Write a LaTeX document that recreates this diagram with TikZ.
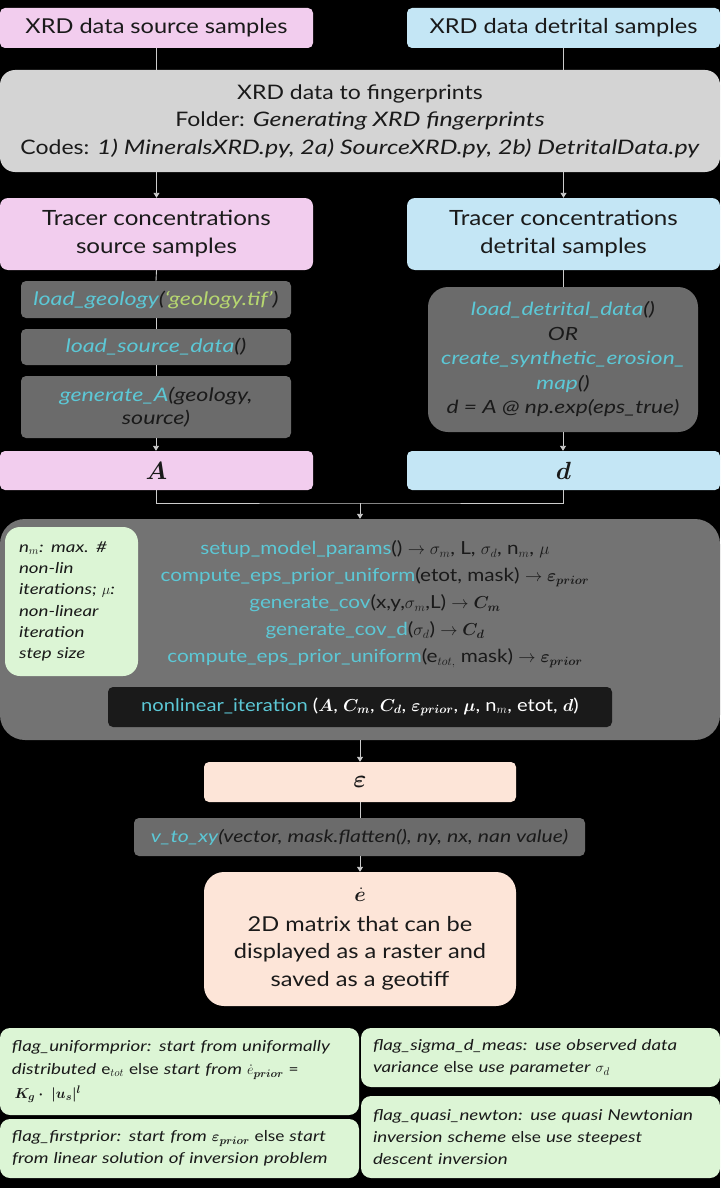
\documentclass[tikz,border=0pt]{standalone}
\usepackage{amsmath,bm}
\usepackage{fontspec}
\setmainfont{Lato}[UprightFeatures={FakeStretch=1.15}, ItalicFeatures={FakeStretch=1.25}, BoldFeatures={FakeStretch=1.15}]
\usetikzlibrary{arrows.meta,calc}
\definecolor{pinkc}{HTML}{F2CDEE}
\definecolor{bluec}{HTML}{C4E6F5}
\definecolor{grayc}{HTML}{D4D4D4}
\definecolor{darkc}{HTML}{6B6B6B}
\definecolor{bigc}{HTML}{737373}
\definecolor{blackc}{HTML}{1A1A1A}
\definecolor{notec}{HTML}{DCF5D5}
\definecolor{peachc}{HTML}{FDE5D8}
\definecolor{fn}{RGB}{92,200,214}
\definecolor{strc}{RGB}{182,214,112}
\definecolor{linec}{HTML}{CCCCCC}
\definecolor{txtc}{HTML}{1A1A1A}
\newcommand\myfs[2]{\fontsize{#1}{#2}\selectfont}
\begin{document}
\begin{tikzpicture}[x=1pt,y=-1pt,
  box/.style={rectangle, rounded corners=5pt, inner sep=0pt, align=center, text=txtc},
  pinkbox/.style={box, fill=pinkc},
  bluebox/.style={box, fill=bluec},
  darkbox/.style={box, fill=darkc, minimum width=270pt, font=\myfs{18.6}{23}\itshape},
  peachbox/.style={box, fill=peachc},
  greenbox/.style={box, fill=notec, align=left, inner xsep=12pt, text width=335pt, font=\myfs{15}{22}},
  conn/.style={draw=linec, line width=0.9pt},
  arr/.style={conn, -{Triangle[width=6pt,length=5pt]}}
]
\fill[black] (0,0) rectangle (720,1188);
\useasboundingbox (0,0) rectangle (720,1188);

% top row
\node[pinkbox, minimum width=313pt, minimum height=40pt, font=\myfs{20.5}{24}] (srcxrd) at (156.5,28) {XRD data source samples};
\node[bluebox, minimum width=313pt, minimum height=40pt, font=\myfs{20.5}{24}] (detxrd) at (563.5,28) {XRD data detrital samples};

\node[box, fill=grayc, minimum width=720pt, minimum height=102pt, rounded corners=15pt, font=\myfs{20}{27.5}] (fp) at (360,121)
  {XRD data to fingerprints\\ Folder: \textit{Generating XRD fingerprints}\\ Codes: \textit{1) MineralsXRD.py, 2a) SourceXRD.py, 2b) DetritalData.py}};

\node[pinkbox, minimum width=313pt, minimum height=72pt, rounded corners=8pt, font=\myfs{21}{28}] (srctr) at (156.5,234) {Tracer concentrations\\ source samples};
\node[bluebox, minimum width=313pt, minimum height=72pt, rounded corners=8pt, font=\myfs{21}{28}] (dettr) at (563.5,234) {Tracer concentrations\\ detrital samples};

% left dark boxes
\node[darkbox, minimum height=37pt] (lg) at (156,299.5) {{\color{fn}load\_geology}({\color{strc}‘geology.tif’})};
\node[darkbox, minimum height=36pt] (lsd) at (156,347) {{\color{fn}load\_source\_data}()};
\node[darkbox, minimum height=62pt] (genA) at (156,407) {{\color{fn}generate\_A}(geology,\\ source)};

% right dark box
\node[darkbox, minimum height=145pt, rounded corners=20pt, font=\myfs{18.2}{24.5}\itshape] (detfun) at (563,359.5)
  {{\color{fn}load\_detrital\_data}()\\ OR\\ {\color{fn}create\_synthetic\_erosion\_}\\ {\color{fn}map}()\\ d = A @ np.exp(eps\_true)};

\node[pinkbox, minimum width=313pt, minimum height=39pt, font=\myfs{23}{24}] (A) at (156.5,470.5) {$\bm{A}$};
\node[bluebox, minimum width=313pt, minimum height=39pt, font=\myfs{23}{24}] (d) at (563.5,470.5) {$\bm{d}$};

% big box
\node[box, fill=bigc, minimum width=720pt, minimum height=221pt, rounded corners=25pt] (big) at (360,629.5) {};
\node[box, fill=notec, minimum width=133pt, minimum height=149pt, rounded corners=15pt, align=left, text width=105pt, font=\myfs{15}{21.3}\itshape] (note) at (71.5,601.5)
  {n$_m$: max. \#\\ non-lin\\ iterations; $\mu$:\\ non-linear\\ iteration\\ step size};
\node[inner sep=0pt, align=center, text=txtc, font=\myfs{18}{27}] (params) at (375,604)
  {{\color{fn}setup\_model\_params}() $\rightarrow \sigma_m$, L, $\sigma_d$, n$_m$, $\mu$\\
   {\color{fn}compute\_eps\_prior\_uniform}(etot, mask) $\rightarrow \bm{\varepsilon}_{\bm{prior}}$\\
   {\color{fn}generate\_cov}(x,y,$\sigma_m$,L) $\rightarrow \bm{C}_{\bm{m}}$\\
   {\color{fn}generate\_cov\_d}($\sigma_d$) $\rightarrow \bm{C}_{\bm{d}}$\\
   {\color{fn}compute\_eps\_prior\_uniform}(e$_{tot,}$ mask) $\rightarrow \bm{\varepsilon}_{\bm{prior}}$};
\node[box, fill=blackc, minimum width=504pt, minimum height=40pt, text=white, font=\myfs{17.5}{22}] (nl) at (360,707)
  {{\color{fn}nonlinear\_iteration} ($\bm{A}$, $\bm{C}_{\bm{m}}$, $\bm{C}_{\bm{d}}$, $\bm{\varepsilon}_{\bm{prior}}$, $\bm{\mu}$, n$_m$, etot, $\bm{d}$)};

% lower chain
\node[peachbox, minimum width=312pt, minimum height=40pt, font=\myfs{23}{24}] (eps) at (360,782) {$\bm{\varepsilon}$};
\node[darkbox, minimum width=451pt, minimum height=38pt, font=\myfs{17}{22}\itshape] (v2xy) at (359.5,837)
  {{\color{fn}v\_to\_xy}(vector, mask.flatten(), ny, nx, nan value)};
\node[peachbox, minimum width=312pt, minimum height=134pt, rounded corners=20pt, font=\myfs{20.5}{27.5}] (edot) at (360,939)
  {$\dot{\bm{e}}$\\[2pt] 2D matrix that can be\\ displayed as a raster and\\ saved as a geotiff};

% bottom flags
\node[greenbox, minimum height=87pt, rounded corners=10pt] (f1) at (179.5,1071.5)
  {\textit{flag\_uniformprior: start from uniformally}\\[1pt] \textit{distributed} e$_{tot}$ else \textit{start from} $\dot{e}_{\bm{prior}}$ =\\[2pt] \,$\bm{K_g\cdot\ |u_s|^l}$};
\node[greenbox, minimum height=59pt, rounded corners=10pt] (f2) at (179.5,1148.5)
  {\textit{flag\_firstprior: start from} $\bm{\varepsilon}_{\bm{prior}}$ else \textit{start}\\ \textit{from linear solution of inversion problem}};
\node[greenbox, minimum height=59pt, rounded corners=10pt] (f3) at (540.5,1057.5)
  {\textit{flag\_sigma\_d\_meas: use observed data}\\ \textit{variance} else \textit{use parameter} $\sigma_d$};
\node[greenbox, minimum height=82pt, rounded corners=10pt] (f4) at (540.5,1137)
  {\textit{flag\_quasi\_newton: use quasi Newtonian}\\ \textit{inversion scheme} else \textit{use steepest}\\ \textit{descent inversion}};

% connectors
\draw[conn] (srcxrd.south -| srctr.north) -- (srctr.north |- fp.north);
\draw[conn] (detxrd.south -| dettr.north) -- (dettr.north |- fp.north);
\draw[arr] (srctr.north |- fp.south) -- (srctr.north);
\draw[arr] (dettr.north |- fp.south) -- (dettr.north);
\draw[conn] (srctr.south) -- (lg.north);
\draw[conn] (lg.south) -- (lsd.north);
\draw[conn] (lsd.south) -- (genA.north);
\draw[arr] (genA.south) -- (A.north -| genA.south);
\draw[conn] (dettr.south -| detfun.north) -- (detfun.north);
\draw[arr] (detfun.south) -- (d.north -| detfun.south);
\coordinate (join) at (360,503);
\draw[conn] (A.south -| genA.south) |- (join) -| (d.south -| detfun.south);
\draw[arr] (join) -- (big.north);
\draw[arr] (big.south) -- (eps.north);
\draw[conn] (eps.south) -- (v2xy.north -| eps.south);
\draw[arr] (v2xy.south -| edot.north) -- (edot.north);
\end{tikzpicture}
\end{document}
